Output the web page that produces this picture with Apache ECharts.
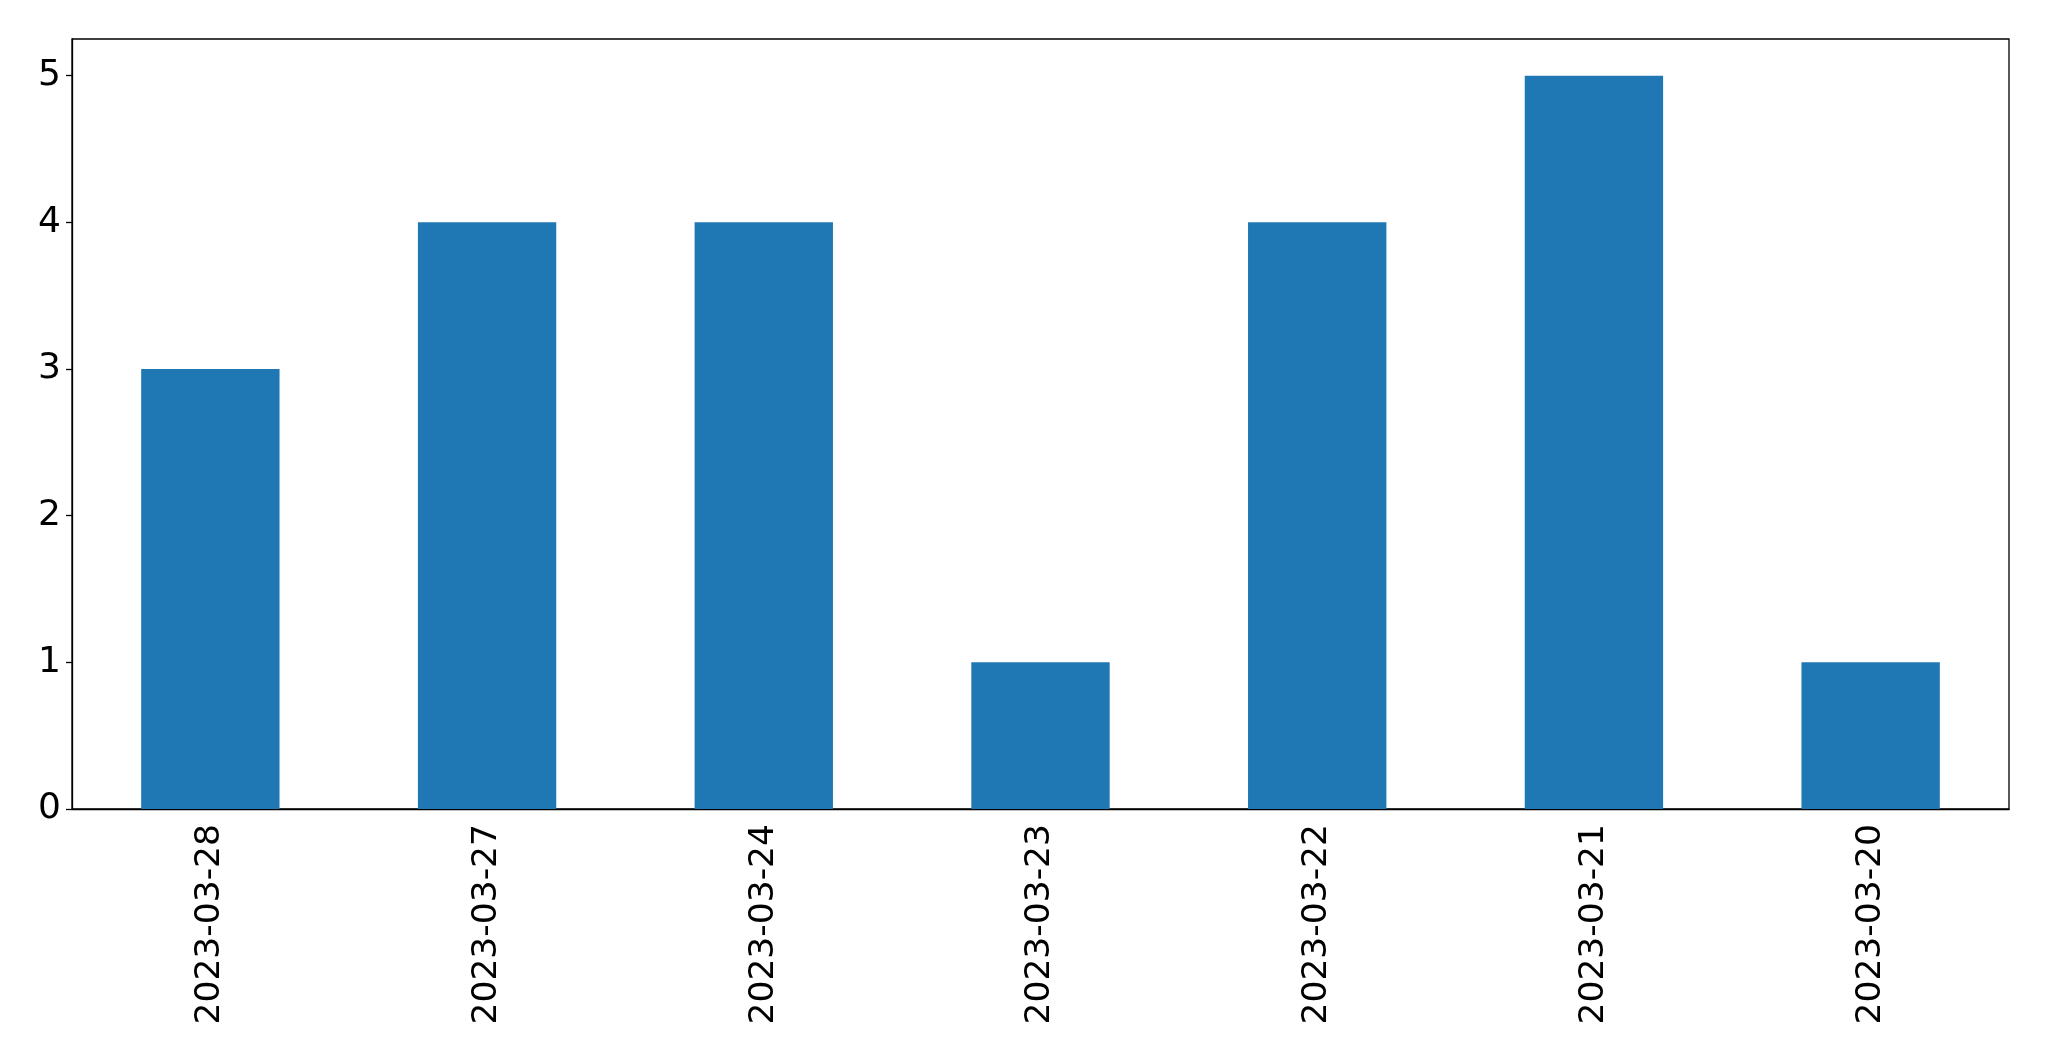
<!DOCTYPE html>
<html>
<head>
<meta charset="utf-8">
<script src="https://cdn.jsdelivr.net/npm/echarts@6/dist/echarts.min.js"></script>
<style>
html,body{margin:0;padding:0;background:#fff;}
#main{width:2049px;height:1061px;}
</style>
</head>
<body>
<div id="main"></div>
<script>
// 日期与数量
var dates = ["2023-03-28", "2023-03-27", "2023-03-24", "2023-03-23", "2023-03-22", "2023-03-21", "2023-03-20"];
var counts = [3, 4, 4, 1, 4, 5, 1];
var yTicks = [0, 1, 2, 3, 4, 5];

var myChart = echarts.init(document.getElementById("main"));
var option = {
	animation: false,
	backgroundColor: "#fff",
	grid: {
		left: 72, right: 40, top: 39, bottom: 252,
		show: true, borderColor: "#000", borderWidth: 1.3
	},
	xAxis: {
		type: "category",
		data: dates,
		axisLine: {lineStyle: {color: "#000", width: 1.3}},
		axisTick: {alignWithLabel: true, length: 6, lineStyle: {color: "#000", width: 1.3}},
		axisLabel: {
			rotate: 90, margin: 15, color: "#000",
			fontFamily: "DejaVu Sans", fontSize: 34.5
		}
	},
	yAxis: {
		type: "value",
		min: 0, max: 5.25,
		splitLine: {show: false},
		axisLine: {show: true, lineStyle: {color: "#000", width: 1.3}},
		axisTick: {show: true, length: 6, customValues: yTicks, lineStyle: {color: "#000", width: 1.3}},
		axisLabel: {
			margin: 11, color: "#000",
			fontFamily: "DejaVu Sans", fontSize: 36,
			customValues: yTicks
		}
	},
	series: [{
		type: "bar",
		data: counts,
		barWidth: "50%",
		itemStyle: {color: "#1f77b4"}
	}]
};
myChart.setOption(option);
</script>
</body>
</html>
